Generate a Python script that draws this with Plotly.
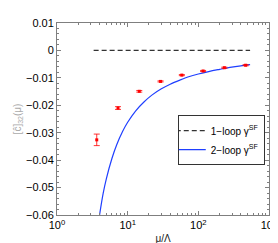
import plotly.graph_objects as go

# Lattice data points (red, with error bars)
mu_pts = [3.65, 7.3, 14.6, 29.2, 58.4, 116.8, 233.6, 467.2]
c_pts = [-0.0326, -0.0210, -0.0149, -0.0113, -0.0090, -0.0075, -0.0063, -0.0054]
c_err = [0.0021, 0.0005, 0.0003, 0.0002, 0.0002, 0.0002, 0.0002, 0.0002]

# 1-loop gamma^SF (dashed)
mu_1loop = [3.3, 540]
c_1loop = [0.0, 0.0]

# 2-loop gamma^SF (blue curve)
mu_2loop = [4.0, 4.5, 5.0, 6.0, 7.0, 8.5, 10, 13, 17, 22, 30, 40, 55, 75, 100, 140, 200, 280, 400, 540]
c_2loop = [-0.0600, -0.0521, -0.0467, -0.0393, -0.0344, -0.0295, -0.0262, -0.0220, -0.0188,
           -0.0163, -0.0140, -0.0123, -0.0108, -0.0095, -0.0086, -0.0077, -0.0069, -0.0062,
           -0.0056, -0.0052]

x_ticks = [1, 10, 100, 1000]
x_ticktext = ["10<sup>0</sup>", "10<sup>1</sup>", "10<sup>2</sup>", "10<sup>3</sup>"]
y_ticks = [0.01, 0, -0.01, -0.02, -0.03, -0.04, -0.05, -0.06]
y_ticktext = ["0.01", "0", "−0.01", "−0.02", "−0.03", "−0.04", "−0.05", "−0.06"]

minor_x = [m * d for d in (1, 10, 100) for m in range(2, 10)]
minor_y = [v / 1000 for v in range(-60, 11, 2)]

font_family = "Liberation Sans, Arial, sans-serif"

fig = go.Figure()
fig.add_trace(go.Scatter(
    x=mu_1loop, y=c_1loop, mode="lines",
    line=dict(color="#333333", width=1.2, dash="5px,3px"),
    name="1−loop γ<sup>SF</sup>"))
fig.add_trace(go.Scatter(
    x=mu_2loop, y=c_2loop, mode="lines", line_shape="spline",
    line=dict(color="#1f3fff", width=1.2),
    name="2−loop γ<sup>SF</sup>"))
fig.add_trace(go.Scatter(
    x=mu_pts, y=c_pts, mode="markers",
    marker=dict(color="red", size=3, symbol="square"),
    error_y=dict(type="data", array=c_err, color="red", thickness=0.8, width=3),
    showlegend=False))

axis_common = dict(
    showline=True, linecolor="#7f7f7f", linewidth=1, mirror="ticks",
    ticks="inside", ticklen=4, tickcolor="#7f7f7f", showgrid=False, zeroline=False,
    tickfont=dict(family=font_family, size=11, color="black"))

fig.update_xaxes(type="log", range=[0, 3], tickvals=x_ticks, ticktext=x_ticktext,
                 minor=dict(tickvals=minor_x, ticks="inside", ticklen=2, tickcolor="#7f7f7f"),
                 title=dict(text="μ/Λ", font=dict(family=font_family, size=10, color="#222222"),
                            standoff=4),
                 **axis_common)
fig.update_yaxes(range=[-0.06, 0.01], tickvals=y_ticks, ticktext=y_ticktext,
                 minor=dict(tickvals=minor_y, ticks="inside", ticklen=2, tickcolor="#7f7f7f"),
                 title=dict(text="[ĉ]<sub>32</sub>(μ)", font=dict(family=font_family, size=10, color="#aaaaaa"),
                            standoff=2),
                 **axis_common)

fig.update_layout(
    width=278, height=243,
    margin=dict(l=48, r=11, t=9, b=32),
    paper_bgcolor="white", plot_bgcolor="white",
    legend=dict(x=0.98, y=0.52, xanchor="right", yanchor="top",
                bordercolor="#333333", borderwidth=1, bgcolor="white",
                font=dict(family=font_family, size=10, color="black"),
                tracegroupgap=0, itemwidth=30, indentation=-8),
    font=dict(family=font_family),
)

fig.write_html("out.html")
